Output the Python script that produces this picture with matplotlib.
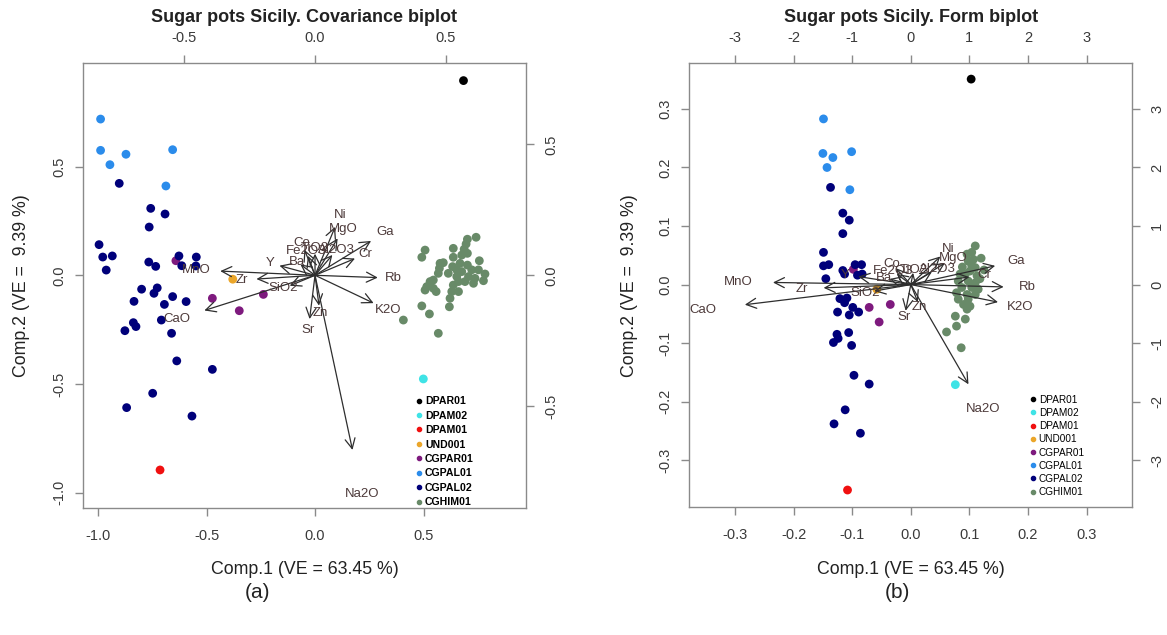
import matplotlib
matplotlib.use('Agg')
import matplotlib.pyplot as plt
from matplotlib.lines import Line2D

plt.rcParams['font.family'] = ['Liberation Sans', 'DejaVu Sans']

# groups and colours
groups = ['DPAR01', 'DPAM02', 'DPAM01', 'UND001', 'CGPAR01', 'CGPAL01', 'CGPAL02', 'CGHIM01']
group_colors = ['#000000', '#3FE3E6', '#F01010', '#EBA62A', '#7E1A7E', '#2B8CEB', '#00007A', '#688A68']

# ---- (a) covariance biplot scores ----
cov_DPAR01 = [(0.684, 0.896)]
cov_DPAM02 = [(0.499, -0.477)]
cov_DPAM01 = [(-0.714, -0.896)]
cov_UND001 = [(-0.379, -0.018)]
cov_CGPAR01 = [(-0.641, 0.067), (-0.473, -0.106), (-0.349, -0.163), (-0.238, -0.088)]
cov_CGPAL01 = [(-0.988, 0.719), (-0.988, 0.575), (-0.945, 0.509), (-0.871, 0.557),
               (-0.656, 0.578), (-0.687, 0.411)]
cov_CGPAL02 = [(-0.902, 0.423), (-0.757, 0.308), (-0.691, 0.282), (-0.764, 0.222),
               (-0.995, 0.141), (-0.978, 0.084), (-0.934, 0.089), (-0.962, 0.024),
               (-0.766, 0.061), (-0.734, 0.041), (-0.627, 0.089), (-0.547, 0.084),
               (-0.614, 0.044), (-0.549, 0.043), (-0.799, -0.064), (-0.727, -0.058),
               (-0.834, -0.120), (-0.742, -0.083), (-0.656, -0.098), (-0.694, -0.134),
               (-0.594, -0.121), (-0.708, -0.206), (-0.837, -0.218), (-0.825, -0.236),
               (-0.876, -0.255), (-0.661, -0.267), (-0.637, -0.394), (-0.473, -0.433),
               (-0.748, -0.543), (-0.868, -0.609), (-0.567, -0.648)]
cov_CGHIM01 = [(0.742, 0.175), (0.702, 0.166), (0.696, 0.144), (0.687, 0.120), (0.637, 0.124),
               (0.507, 0.116), (0.492, 0.083), (0.576, 0.055), (0.591, 0.058), (0.637, 0.083),
               (0.676, 0.093), (0.702, 0.101), (0.634, 0.040), (0.573, 0.032), (0.568, 0.009),
               (0.614, 0.009), (0.653, 0.025), (0.676, 0.017), (0.702, 0.047), (0.722, 0.025),
               (0.757, 0.067), (0.753, 0.025), (0.783, 0.006), (0.776, -0.025), (0.737, -0.014),
               (0.707, -0.006), (0.691, -0.029), (0.661, -0.029), (0.637, -0.045), (0.545, -0.022),
               (0.530, -0.029), (0.515, -0.052), (0.507, -0.068), (0.545, -0.060), (0.558, -0.075),
               (0.630, -0.075), (0.661, -0.075), (0.622, -0.106), (0.619, -0.145), (0.492, -0.141),
               (0.527, -0.178), (0.407, -0.206), (0.568, -0.267), (0.668, 0.055), (0.653, -0.006),
               (0.730, -0.037)]

# ---- (b) form biplot scores ----
form_DPAR01 = [(0.103, 0.351)]
form_DPAM02 = [(0.076, -0.171)]
form_DPAM01 = [(-0.108, -0.351)]
form_UND001 = [(-0.058, -0.008)]
form_CGPAR01 = [(-0.098, 0.026), (-0.071, -0.039), (-0.054, -0.064), (-0.035, -0.034)]
form_CGPAL01 = [(-0.149, 0.283), (-0.150, 0.224), (-0.133, 0.217), (-0.101, 0.227),
                (-0.143, 0.200), (-0.104, 0.162)]
form_CGPAL02 = [(-0.137, 0.166), (-0.116, 0.122), (-0.105, 0.110), (-0.116, 0.087),
                (-0.149, 0.055), (-0.149, 0.032), (-0.140, 0.034), (-0.145, 0.010),
                (-0.116, 0.024), (-0.113, 0.018), (-0.095, 0.034), (-0.084, 0.034),
                (-0.091, 0.016), (-0.083, 0.018), (-0.121, -0.024), (-0.109, -0.023),
                (-0.125, -0.047), (-0.113, -0.031), (-0.099, -0.039), (-0.105, -0.052),
                (-0.089, -0.047), (-0.106, -0.082), (-0.126, -0.085), (-0.124, -0.092),
                (-0.132, -0.099), (-0.101, -0.104), (-0.097, -0.155), (-0.071, -0.170),
                (-0.112, -0.214), (-0.131, -0.238), (-0.086, -0.254)]
form_CGHIM01 = [(0.110, 0.066), (0.104, 0.055), (0.096, 0.052), (0.098, 0.040), (0.107, 0.043),
                (0.110, 0.029), (0.101, 0.023), (0.093, 0.018), (0.113, 0.015), (0.081, 0.006),
                (0.098, 0.006), (0.110, 0.003), (0.087, -0.005), (0.104, -0.005), (0.115, -0.008),
                (0.078, -0.014), (0.096, -0.017), (0.110, -0.017), (0.081, -0.025), (0.098, -0.025),
                (0.090, -0.034), (0.101, -0.037), (0.096, -0.042), (0.076, -0.054), (0.093, -0.059),
                (0.078, -0.071), (0.061, -0.081), (0.086, -0.108), (0.104, 0.032), (0.084, 0.018),
                (0.120, 0.045), (0.118, 0.010), (0.125, 0.025), (0.088, 0.030)]

# ---- variable loadings (label positions, arrows drawn to 0.8 of them) ----
cov_vars = ['Rb', 'K2O', 'Ga', 'Cr', 'Ni', 'MgO', 'Al2O3', 'TiO2', 'Fe2O3', 'Co',
            'Y', 'Ba', 'Zr', 'MnO', 'SiO2', 'CaO', 'Zn', 'Sr', 'Na2O']
cov_load_x = [0.300, 0.280, 0.268, 0.191, 0.096, 0.108, 0.083, 0.000, -0.034, -0.051,
              -0.170, -0.070, -0.280, -0.453, -0.121, -0.529, 0.019, -0.026, 0.179]
cov_load_y = [-0.011, -0.133, 0.164, 0.080, 0.231, 0.176, 0.097, 0.103, 0.093, 0.122,
              0.046, 0.052, -0.018, 0.020, -0.050, -0.168, -0.145, -0.209, -0.834]

form_vars = ['Rb', 'K2O', 'Ga', 'Cr', 'Ni', 'MgO', 'Al2O3', 'TiO2', 'Fe2O3', 'Co',
             'Y', 'Ba', 'Zr', 'MnO', 'SiO2', 'CaO', 'Zn', 'Sr', 'Na2O']
form_load_x = [1.98, 1.86, 1.80, 1.25, 0.63, 0.73, 0.45, 0.05, -0.30, -0.32,
               -1.12, -0.455, -1.86, -2.94, -0.78, -3.54, 0.15, -0.11, 1.23]
form_load_y = [-0.05, -0.375, 0.40, 0.16, 0.60, 0.46, 0.27, 0.25, 0.23, 0.35,
               0.17, 0.12, -0.07, 0.045, -0.14, -0.43, -0.375, -0.56, -2.13]

axis_grey = '#8a8a8a'
text_grey = '#3a3a3a'
var_color = '#4d3a3a'
arrow_color = '#2e2e2e'


def style_axis(a, pad_x, pad_y):
    for s in a.spines.values():
        s.set_color(axis_grey)
        s.set_linewidth(1.0)
    a.tick_params(colors=axis_grey, labelcolor=text_grey, labelsize=10.5,
                  length=6, width=1.0, direction='out')
    a.tick_params(axis='x', pad=pad_x)
    a.tick_params(axis='y', pad=pad_y)


def biplot(rect, xlim, ylim, ratio, scores, vars_, lx, ly, xticks, xfmt, vticks, vfmt,
           title, leg_anchor, leg_bold, leg_size, leg_spacing):
    ax = fig.add_axes(rect)
    ax.set_xlim(xlim)
    ax.set_ylim(ylim)
    for g, c in zip(groups, group_colors):
        pts = scores[g]
        ax.scatter([p[0] for p in pts], [p[1] for p in pts], s=40, color=c,
                   edgecolors='none', zorder=2)
    ax.set_xticks(xticks)
    ax.set_xticklabels([xfmt % t for t in xticks])
    ax.set_yticks(xticks)
    ax.set_yticklabels([xfmt % t for t in xticks], rotation=90, va='center')
    style_axis(ax, 9, 6)

    # variable axes on top/right, same box
    av = fig.add_axes(rect, frameon=False)
    av.patch.set_visible(False)
    av.set_xlim(xlim[0] * ratio, xlim[1] * ratio)
    av.set_ylim(ylim[0] * ratio, ylim[1] * ratio)
    av.xaxis.tick_top()
    av.yaxis.tick_right()
    av.set_xticks(vticks)
    av.set_xticklabels([vfmt % t for t in vticks])
    av.set_yticks(vticks)
    av.set_yticklabels([vfmt % t for t in vticks], rotation=90, va='center')
    style_axis(av, 7, 7)
    for name, x, y in zip(vars_, lx, ly):
        av.annotate('', xy=(0.8 * x, 0.8 * y), xytext=(0, 0),
                    arrowprops=dict(arrowstyle='->,head_length=0.6,head_width=0.3',
                                    color=arrow_color, lw=0.9, shrinkA=0, shrinkB=0,
                                    mutation_scale=12), zorder=3)
        av.text(x, y, name, ha='center', va='center', fontsize=9.5, color=var_color, zorder=4)

    fig.text(rect[0] + rect[2] / 2, 0.9717, title, ha='center', va='center',
             fontsize=13, fontweight='bold', color='#222222')

    handles = [Line2D([], [], ls='none', marker='o', markersize=3, color=c, label=g)
               for g, c in zip(groups, group_colors)]
    leg = ax.legend(handles=handles, loc='upper left', bbox_to_anchor=leg_anchor,
                    frameon=False, borderpad=0, borderaxespad=0, handlelength=0.6,
                    handletextpad=0.25, labelspacing=leg_spacing,
                    prop={'size': leg_size, 'weight': 'bold' if leg_bold else 'normal'})
    leg.set_zorder(5)
    return ax


fig = plt.figure(figsize=(11.67, 6.35), dpi=100)

cov_scores = {'DPAR01': cov_DPAR01, 'DPAM02': cov_DPAM02, 'DPAM01': cov_DPAM01,
              'UND001': cov_UND001, 'CGPAR01': cov_CGPAR01, 'CGPAL01': cov_CGPAL01,
              'CGPAL02': cov_CGPAL02, 'CGHIM01': cov_CGHIM01}
form_scores = {'DPAR01': form_DPAR01, 'DPAM02': form_DPAM02, 'DPAM01': form_DPAM01,
               'UND001': form_UND001, 'CGPAR01': form_CGPAR01, 'CGPAL01': form_CGPAL01,
               'CGPAL02': form_CGPAL02, 'CGHIM01': form_CGHIM01}

W, H = 1167.0, 635.0
rect_a = [83 / W, 1 - 508 / H, 443 / W, 445 / H]
rect_b = [689.3 / W, 1 - 506.7 / H, 443 / W, 443.4 / H]

biplot(rect_a, (-1.069, 0.972), (-1.071, 0.977), 0.830, cov_scores,
       cov_vars, cov_load_x, cov_load_y, [-1.0, -0.5, 0.0, 0.5], '%.1f',
       [-0.5, 0.0, 0.5], '%.1f', 'Sugar pots Sicily. Covariance biplot',
       (0.752, 0.251), True, 7.6, 0.42)
biplot(rect_b, (-0.378, 0.378), (-0.3795, 0.378), 10.0, form_scores,
       form_vars, form_load_x, form_load_y, [-0.3, -0.2, -0.1, 0.0, 0.1, 0.2, 0.3], '%.1f',
       [-3, -2, -1, 0, 1, 2, 3], '%d', 'Sugar pots Sicily. Form biplot',
       (0.7695, 0.2525), False, 7.2, 0.32)

# axis titles and panel letters
for cx in (rect_a[0] + rect_a[2] / 2, rect_b[0] + rect_b[2] / 2):
    fig.text(cx, 1 - 570 / H, 'Comp.1 (VE = 63.45 %)', ha='center', va='center',
             fontsize=12.8, color='#222222')
for lxp in (22 / W, 630 / W):
    fig.text(lxp, 1 - 285.5 / H, 'Comp.2 (VE =  9.39 %)', ha='center', va='center',
             rotation=90, fontsize=12.8, color='#222222')
fig.text(258 / W, 1 - 592 / H, '(a)', ha='center', va='center', fontsize=15, color='#222222')
fig.text(897 / W, 1 - 592 / H, '(b)', ha='center', va='center', fontsize=15, color='#222222')

fig.savefig('out.png', dpi=100, facecolor='white')
